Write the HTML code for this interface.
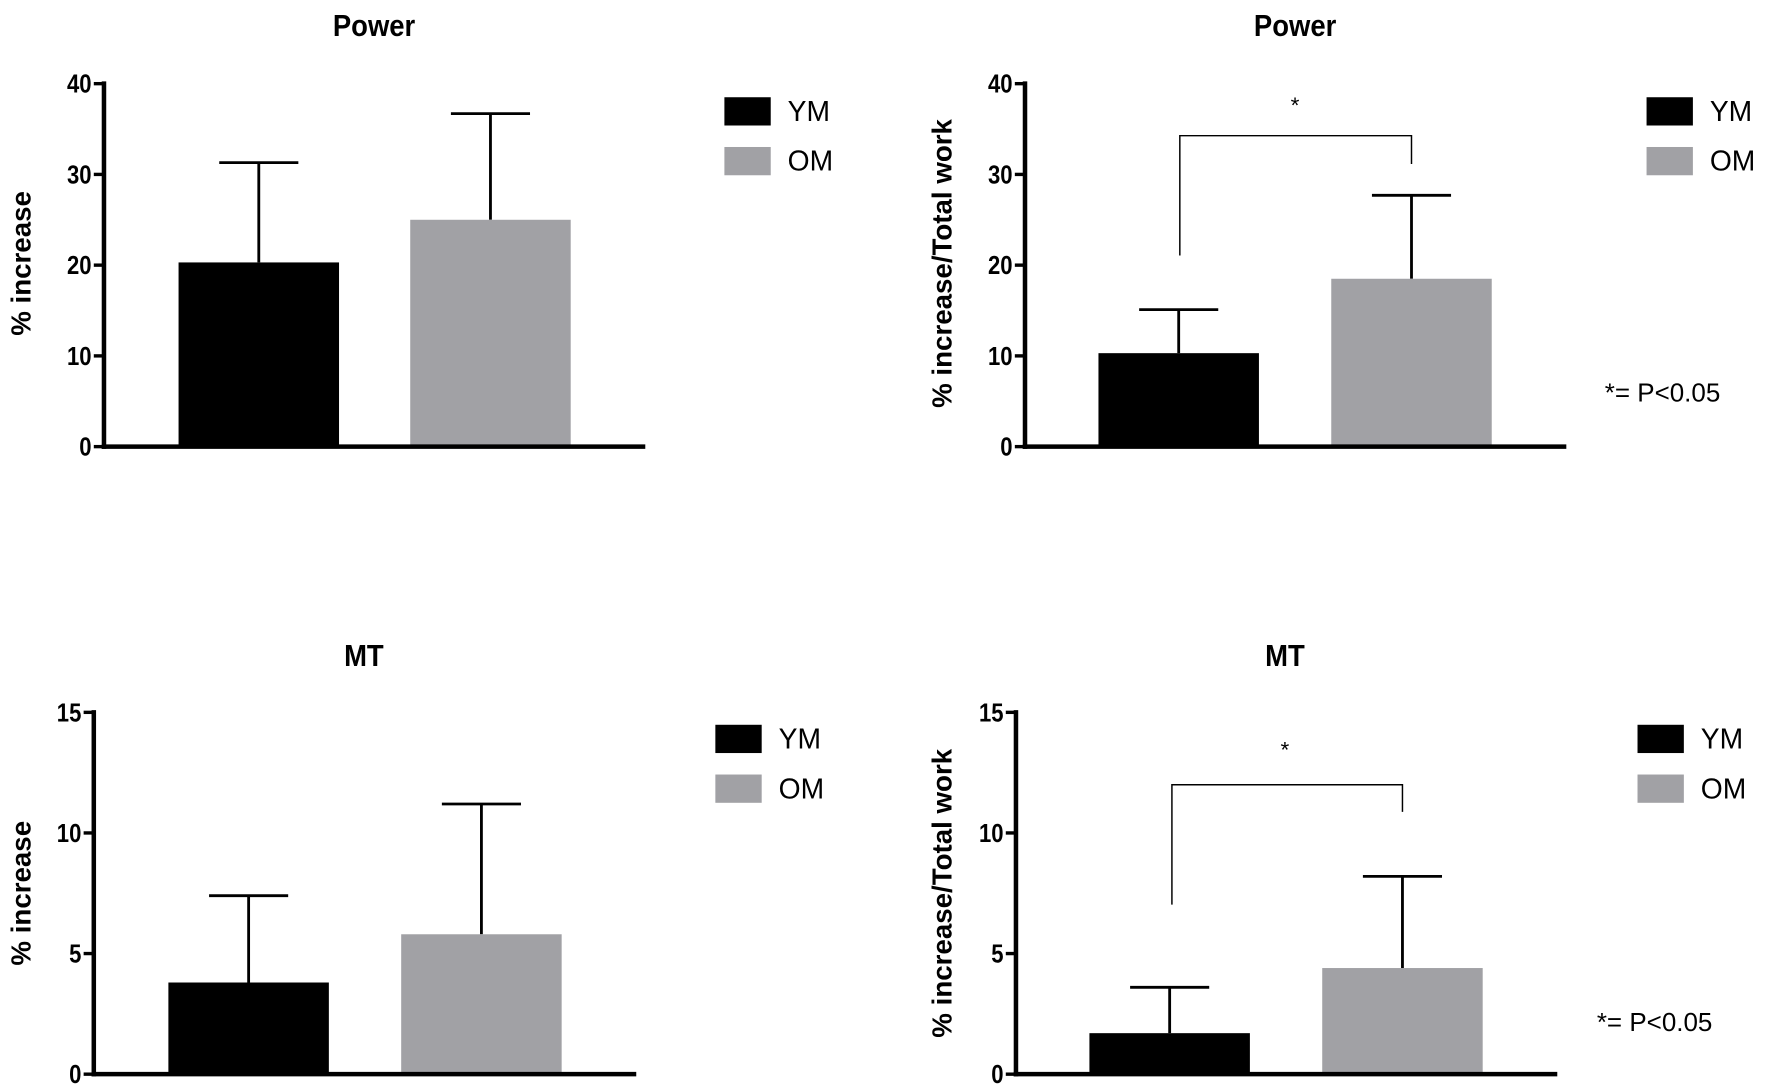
<!DOCTYPE html>
<html><head><meta charset="utf-8"><style>
html,body{margin:0;padding:0;background:#fff}
svg{display:block}
text{font-family:"Liberation Sans",sans-serif}
</style></head><body>
<svg id="chart" width="1772" height="1090" viewBox="0 0 1568 964" preserveAspectRatio="none" xmlns="http://www.w3.org/2000/svg"></svg>
<script>
const categories = ["YM", "OM"];
const powerPctMeans = [20.3, 25.0];
const powerPctErr = [11.0, 11.7];
const powerWorkMeans = [10.3, 18.5];
const powerWorkErr = [4.8, 9.2];
const mtPctMeans = [3.8, 5.8];
const mtPctErr = [3.6, 5.4];
const mtWorkMeans = [1.7, 4.4];
const mtWorkErr = [1.9, 3.8];
const powerTicks = [0, 10, 20, 30, 40];
const mtTicks = [0, 5, 10, 15];
const colors = ["#000000", "#a1a1a5"];

const NS = "http://www.w3.org/2000/svg";
const svg = document.getElementById("chart");
function mk(tag, attrs, parent, txt) {
  const e = document.createElementNS(NS, tag);
  for (const k in attrs) e.setAttribute(k, attrs[k]);
  if (txt !== undefined) e.textContent = txt;
  (parent || svg).appendChild(e);
  return e;
}

const panels = [
  {name:"power-percent", title:"Power", ytitle:"% increase", ax:92, top:74, zero:395, end:571, max:40, ticks:powerTicks, means:powerPctMeans, errs:powerPctErr, bars:[158,363], legX:641, legY:86, tx:331, ty:32, ytx:27, yty:233},
  {name:"power-work", title:"Power", ytitle:"% increase/Total work", ax:907, top:74, zero:395, end:1386, max:40, ticks:powerTicks, means:powerWorkMeans, errs:powerWorkErr, bars:[972,1178], legX:1457, legY:86, tx:1146, ty:32, ytx:842, yty:233, sig:{l:1044, r:1249, y:120, ly:226, ry:145, sx:1146, sy:100, px:1420, py:355}},
  {name:"mt-percent", title:"MT", ytitle:"% increase", ax:83, top:630, zero:950, end:563, max:15, ticks:mtTicks, means:mtPctMeans, errs:mtPctErr, bars:[149,355], legX:633, legY:641, tx:322, ty:589, ytx:27, yty:790},
  {name:"mt-work", title:"MT", ytitle:"% increase/Total work", ax:899, top:630, zero:950, end:1378, max:15, ticks:mtTicks, means:mtWorkMeans, errs:mtWorkErr, bars:[964,1170], legX:1449, legY:641, tx:1137, ty:589, ytx:842, yty:790, sig:{l:1037, r:1241, y:694, ly:800, ry:718, sx:1137, sy:670, px:1413, py:912}}
];

panels.forEach(p => {
  const g = mk("g", {});
  
  
  const y = v => p.zero - (v / p.max) * (p.zero - p.top);
  const t = mk("text", {x:p.tx, y:p.ty, "text-anchor":"middle", "font-size":27, "font-weight":"bold", transform:`translate(${p.tx} 0) scale(0.9 1) translate(${-p.tx} 0)`}, g, p.title);
  
  
  const yt = mk("text", {x:p.ytx, y:p.yty, "text-anchor":"middle", "font-size":24.5, "font-weight":"bold", transform:`rotate(-90 ${p.ytx} ${p.yty})`}, g, p.ytitle);
  
  
  p.means.forEach((m, i) => {
    const x0 = p.bars[i], w = 142, cx = x0 + w / 2;
    const top = y(m), et = y(m + p.errs[i]);
    const el = mk("line", {x1:cx, x2:cx, y1:top, y2:et, stroke:"#000", "stroke-width":2.5}, g);
    
    
    const cap = mk("line", {x1:cx - 35, x2:cx + 35, y1:et, y2:et, stroke:"#000", "stroke-width":2.5}, g);
    
    
    const r = mk("rect", {x:x0, y:top, width:w, height:p.zero - top, fill:colors[i]}, g);
    
    
  });
  const ya = mk("line", {x1:p.ax, x2:p.ax, y1:p.top - 2, y2:p.zero + 2, stroke:"#000", "stroke-width":4}, g);
  
  
  const xa = mk("line", {x1:p.ax - 2, x2:p.end, y1:p.zero, y2:p.zero, stroke:"#000", "stroke-width":4}, g);
  
  
  p.ticks.forEach(v => {
    const tk = mk("line", {x1:p.ax - 9, x2:p.ax, y1:y(v), y2:y(v), stroke:"#000", "stroke-width":3}, g);
    
    
    const lx = p.ax - 11;
    const tl = mk("text", {x:lx, y:y(v) + 8, "text-anchor":"end", "font-size":23, "font-weight":"bold", transform:`translate(${lx} 0) scale(0.85 1) translate(${-lx} 0)`}, g, String(v));
    
    
  });
  categories.forEach((c, i) => {
    const ly = p.legY + i * 44;
    const sw = mk("rect", {x:p.legX, y:ly, width:41, height:25, fill:colors[i]}, g);
    
    
    const lt = mk("text", {x:p.legX + 56, y:ly + 21, "font-size":25}, g, c);
    
    
  });
  if (p.sig) {
    const s = p.sig;
    const br = mk("polyline", {points:`${s.l},${s.ly} ${s.l},${s.y} ${s.r},${s.y} ${s.r},${s.ry}`, fill:"none", stroke:"#000", "stroke-width":1.3}, g);
    
    
    const st = mk("text", {x:s.sx, y:s.sy, "text-anchor":"middle", "font-size":20}, g, "*");
    
    
    const pn = mk("text", {x:s.px, y:s.py, "font-size":23}, g, "*= P<0.05");
    
    
  }
});
</script>
</body></html>
